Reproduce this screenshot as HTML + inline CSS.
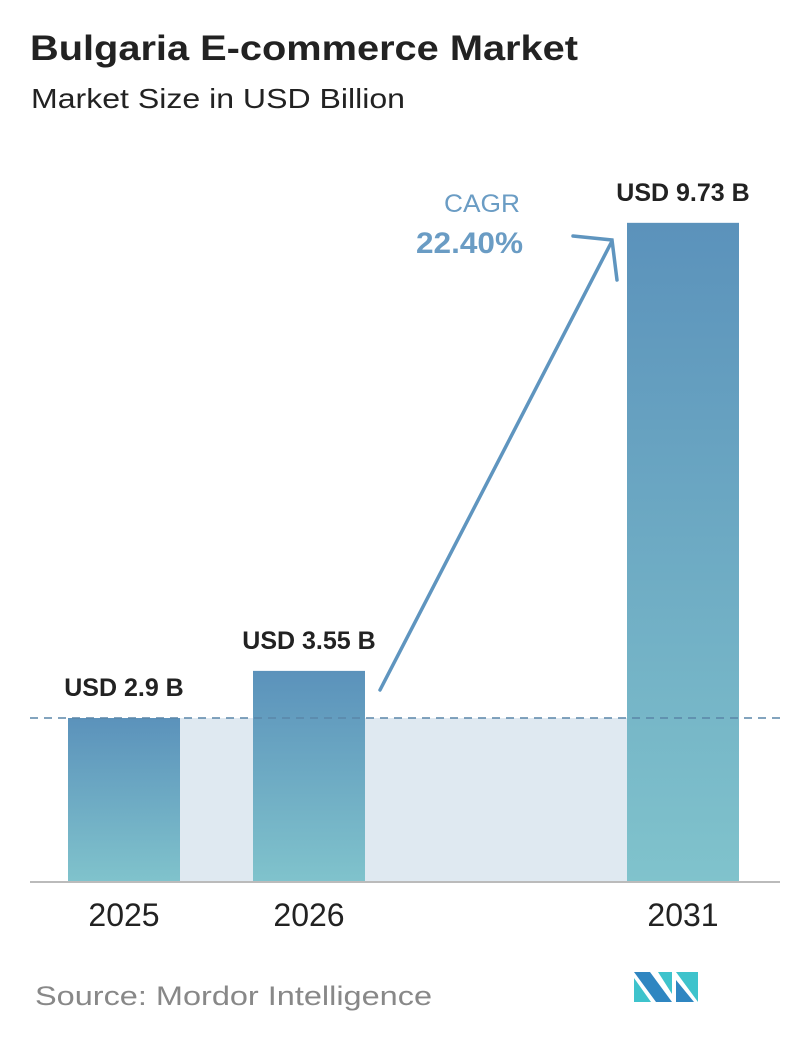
<!DOCTYPE html>
<html><head><meta charset="utf-8"><style>
html,body{margin:0;padding:0;background:#fff;}
body{width:796px;height:1034px;overflow:hidden;font-family:"Liberation Sans","DejaVu Sans",sans-serif;}
</style></head><body>
<svg width="796" height="1034" viewBox="0 0 796 1034">
<defs>
<linearGradient id="bg" x1="0" y1="0" x2="0" y2="1">
<stop offset="0" stop-color="#5b92bb"/><stop offset="1" stop-color="#80c3cc"/>
</linearGradient>
</defs>
<text x="30" y="60" font-size="35" font-weight="bold" fill="#222" textLength="548" lengthAdjust="spacingAndGlyphs">Bulgaria E-commerce Market</text>
<text x="31" y="108" font-size="28" fill="#222" textLength="374" lengthAdjust="spacingAndGlyphs">Market Size in USD Billion</text>
<rect x="68" y="718" width="671" height="164" fill="#dfe9f1"/>
<g id="bars"></g>
<line x1="30" y1="718" x2="780" y2="718" stroke="#5a86a8" stroke-width="1.5" stroke-dasharray="8,6"/>
<line x1="30" y1="882" x2="780" y2="882" stroke="#bbb" stroke-width="2"/>
<g stroke="#5f95bf" stroke-width="3.5" fill="none" stroke-linecap="round">
<line x1="380" y1="690" x2="611" y2="243"/>
<polyline points="573,236 612,240 617,280"/>
</g>
<text x="444" y="212" font-size="25" fill="#6a9cc4" textLength="76" lengthAdjust="spacingAndGlyphs">CAGR</text>
<text x="416" y="253" font-size="30" font-weight="bold" fill="#6a9cc4" textLength="107" lengthAdjust="spacingAndGlyphs">22.40%</text>
<text x="35" y="1005" font-size="27" fill="#888" textLength="397" lengthAdjust="spacingAndGlyphs">Source:  Mordor Intelligence</text>
<g>
<polygon points="634,972 650,972 672,1002 656,1002" fill="#2f86c1"/>
<polygon points="634,978 651,1002 634,1002" fill="#3ec3cc"/>
<polygon points="658,972 672,972 672,994" fill="#3ec3cc"/>
<polygon points="676,972 698,972 698,1002" fill="#3ec3cc"/>
<polygon points="676,980 694,1002 676,1002" fill="#2f86c1"/>
</g>
</svg>
<script>
const categories=["2025","2026","2031"];
const values=[2.9,3.55,9.73];
const valueLabels=["USD 2.9 B","USD 3.55 B","USD 9.73 B"];
const ns="http://www.w3.org/2000/svg";
const g=document.getElementById("bars");
const baseY=882, xs=[68,253,627], bw=112;
function yScale(v){return baseY-72.5*(v-0.638);}
values.forEach((v,i)=>{
  const y=yScale(v);
  const r=document.createElementNS(ns,"rect");
  r.setAttribute("x",xs[i]);r.setAttribute("y",y);r.setAttribute("width",bw);r.setAttribute("height",baseY-y);r.setAttribute("fill","url(#bg)");
  
  
  g.appendChild(r);
  const t=document.createElementNS(ns,"text");
  t.setAttribute("x",xs[i]+bw/2);t.setAttribute("y",y-22);t.setAttribute("text-anchor","middle");t.setAttribute("font-size","25");t.setAttribute("font-weight","bold");t.setAttribute("fill","#222");
  t.textContent=valueLabels[i];
  
  
  g.appendChild(t);
  const c=document.createElementNS(ns,"text");
  c.setAttribute("x",xs[i]+bw/2);c.setAttribute("y",926);c.setAttribute("text-anchor","middle");c.setAttribute("font-size","32");c.setAttribute("fill","#222");
  c.textContent=categories[i];
  
  
  g.appendChild(c);
});
</script>
</body></html>
